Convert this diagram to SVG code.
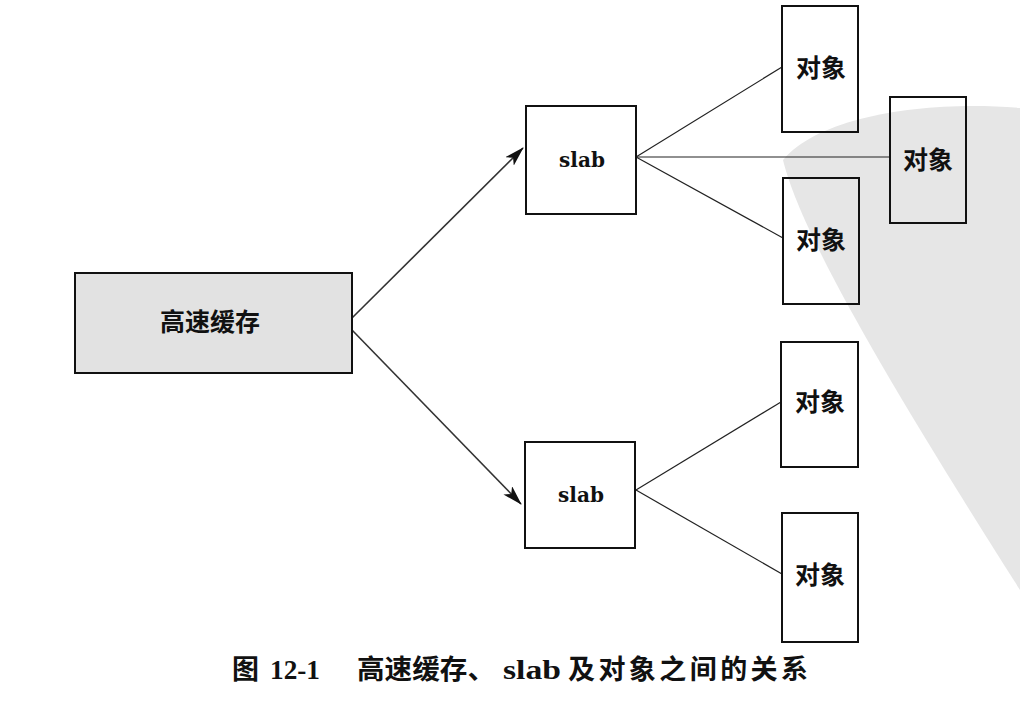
<svg xmlns="http://www.w3.org/2000/svg" width="1020" height="708" viewBox="0 0 1020 708">
<style>
.box{fill:none;stroke:#111;stroke-width:2}
.cjk{font-family:"Noto Sans CJK SC",sans-serif;font-weight:bold;fill:#111}
.lbl{font-size:25px;text-anchor:middle}
.slab{font-family:"DejaVu Serif",serif;font-weight:bold;font-size:20px;text-anchor:middle;fill:#111}
.cap{font-size:27px}
.ser{font-family:"Liberation Serif",serif;font-weight:bold;font-size:27px;fill:#111}
.thin{stroke:#222;stroke-width:1.2;fill:none}
.arr{stroke:#333;stroke-width:1.6;fill:none;marker-end:url(#ah)}
</style>
<defs>
<marker id="ah" viewBox="0 0 20 12" refX="19" refY="6" markerWidth="20" markerHeight="12" markerUnits="userSpaceOnUse" orient="auto">
<path d="M0,0 L20,6 L0,12 L5,6 Z" fill="#111"/>
</marker>
</defs>
<rect width="1020" height="708" fill="#fff"/>
<path id="watermark" d="M1020,108 C930,100 820,115 783,160 C800,230 880,370 1020,590 Z" fill="#e6e6e6"/>
<g id="connectors">
<line class="arr" x1="352" y1="318" x2="523" y2="148"/>
<line class="arr" x1="352" y1="330" x2="521" y2="504"/>
<line class="thin" x1="636" y1="157" x2="782" y2="67"/>
<line class="thin" x1="636" y1="157" x2="890" y2="157"/>
<line class="thin" x1="636" y1="157" x2="783" y2="238"/>
<line class="thin" x1="636" y1="490" x2="781" y2="402"/>
<line class="thin" x1="636" y1="490" x2="782" y2="574"/>
</g>
<g id="cache">
<rect x="75" y="273" width="277" height="100" fill="#e2e2e2" stroke="#111" stroke-width="2"/>
<text class="cjk lbl" x="210" y="331" font-size="26">高速缓存</text>
</g>
<g id="slab1">
<rect class="box" x="526" y="106" width="110" height="108"/>
<text class="slab" x="582" y="167">slab</text>
</g>
<g id="slab2">
<rect class="box" x="525" y="442" width="110" height="106"/>
<text class="slab" x="581" y="502">slab</text>
</g>
<g id="obj1">
<rect class="box" x="782" y="6" width="76" height="126"/>
<text class="cjk lbl" x="821" y="77">对象</text>
</g>
<g id="obj2">
<rect class="box" x="890" y="97" width="76" height="126"/>
<text class="cjk lbl" x="928" y="169">对象</text>
</g>
<g id="obj3">
<rect class="box" x="783" y="178" width="76" height="126"/>
<text class="cjk lbl" x="821" y="249">对象</text>
</g>
<g id="obj4">
<rect class="box" x="781" y="342" width="77" height="125"/>
<text class="cjk lbl" x="820" y="411">对象</text>
</g>
<g id="obj5">
<rect class="box" x="782" y="513" width="76" height="129"/>
<text class="cjk lbl" x="820" y="584">对象</text>
</g>
<g id="caption">
<text class="cjk cap" x="232" y="679">图</text>
<text class="ser" x="270" y="679" textLength="50" lengthAdjust="spacingAndGlyphs">12-1</text>
<text class="cjk cap" x="357" y="679" textLength="138" lengthAdjust="spacingAndGlyphs">高速缓存、</text>
<text class="ser" x="503" y="679" textLength="58" lengthAdjust="spacingAndGlyphs">slab</text>
<text class="cjk cap" x="568" y="679" textLength="240" lengthAdjust="spacing">及对象之间的关系</text>
</g>
</svg>
